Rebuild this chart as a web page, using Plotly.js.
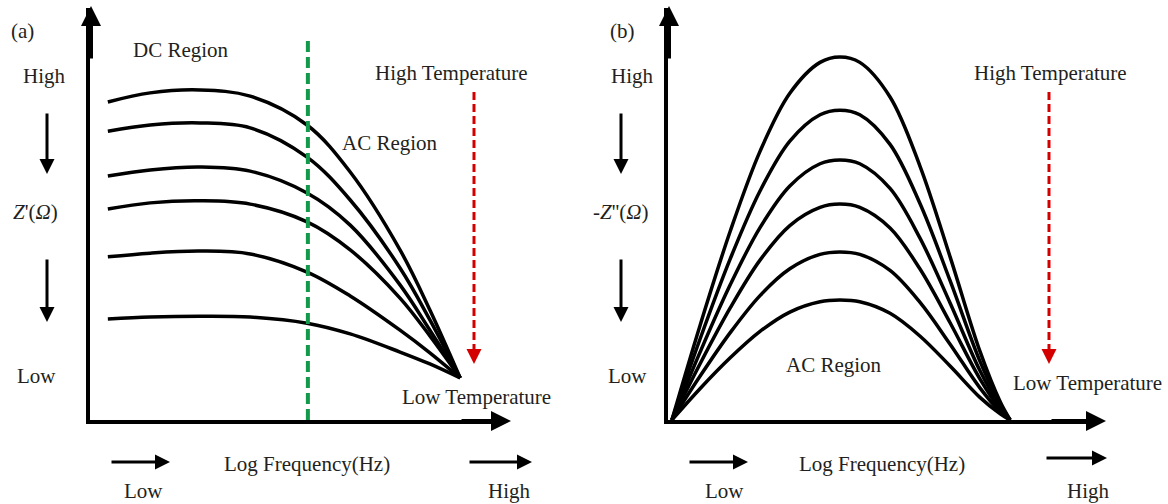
<!DOCTYPE html>
<html><head><meta charset="utf-8">
<script src="https://cdn.plot.ly/plotly-3.0.1.min.js"></script>
<style>html,body{margin:0;padding:0;background:#fff}#chart{width:1168px;height:504px}</style>
</head><body><div id="chart"></div>
<script>
// ---------- data (arbitrary units: log frequency 0-10, impedance 0-10) ----------
const freqA = [0.43, 1.45, 2.65, 3.86, 5.23, 6.27, 7.47, 8.19, 8.92];
const zReal1 = [7.72, 7.94, 8.01, 7.86, 7.16, 6.02, 4.13, 2.67, 1.02];
const zReal2 = [7.01, 7.16, 7.21, 7.09, 6.38, 5.34, 3.69, 2.43, 1.02];
const zReal3 = [5.92, 6.07, 6.14, 6.04, 5.51, 4.73, 3.28, 2.18, 1.02];
const zReal4 = [5.12, 5.27, 5.32, 5.24, 4.81, 4.13, 2.96, 2.04, 1.02];
const zReal5 = [3.96, 4.05, 4.10, 4.03, 3.59, 3.01, 2.18, 1.63, 1.02];
const zReal6 = [2.45, 2.50, 2.52, 2.50, 2.35, 2.09, 1.65, 1.36, 1.02];
const dcAcBoundary = 5.25;

const freqB = [0.09, 0.74, 1.44, 2.13, 2.82, 3.52, 3.98, 4.44, 5.14, 5.83, 6.53, 7.22, 7.69, 7.92];
const zImag1 = [0, 2.29, 4.58, 6.52, 7.93, 8.68, 8.81, 8.68, 7.84, 6.17, 3.96, 1.67, 0.44, 0];
const zImag2 = [0, 1.96, 3.91, 5.56, 6.77, 7.41, 7.52, 7.41, 6.69, 5.26, 3.38, 1.43, 0.38, 0];
const zImag3 = [0, 1.64, 3.28, 4.67, 5.68, 6.22, 6.31, 6.22, 5.62, 4.42, 2.84, 1.20, 0.32, 0];
const zImag4 = [0, 1.36, 2.72, 3.88, 4.72, 5.16, 5.24, 5.16, 4.66, 3.67, 2.36, 1.00, 0.26, 0];
const zImag5 = [0, 1.06, 2.12, 3.02, 3.67, 4.02, 4.08, 4.02, 3.63, 2.86, 1.84, 0.78, 0.20, 0];
const zImag6 = [0, 0.76, 1.51, 2.15, 2.62, 2.87, 2.91, 2.87, 2.59, 2.04, 1.31, 0.55, 0.15, 0];

// ---------- drawing ----------
const W = 1168, H = 504;
const FONT = "'Liberation Serif', 'Times New Roman', serif";
const lineStyle = {color: '#000', width: 3.5, shape: 'spline', smoothing: 1};

const traces = [];
[zReal1, zReal2, zReal3, zReal4, zReal5, zReal6].forEach(z => traces.push({
  x: freqA, y: z, xaxis: 'x', yaxis: 'y', mode: 'lines', line: lineStyle, hoverinfo: 'skip', cliponaxis: false
}));
[zImag1, zImag2, zImag3, zImag4, zImag5, zImag6].forEach(z => traces.push({
  x: freqB, y: z, xaxis: 'x2', yaxis: 'y2', mode: 'lines', line: lineStyle, hoverinfo: 'skip', cliponaxis: false
}));

const P = (x, y) => ({x: x / W, y: 1 - y / H, xref: 'paper', yref: 'paper'});
const txt = (s, x, y, size) => Object.assign(P(x, y), {
  text: s, showarrow: false, xanchor: 'center', yanchor: 'middle',
  font: {family: FONT, size: size || 21, color: '#231f20'}
});
const arr = (hx, hy, tx, ty, color, w, size) => Object.assign(P(hx, hy), {
  text: '', showarrow: true, arrowhead: 2, arrowsize: size || 1, arrowwidth: w,
  arrowcolor: color, ax: tx - hx, ay: ty - hy, axref: 'pixel', ayref: 'pixel', standoff: 0, startstandoff: 0
});

const axisBase = {range: [0, 10], showline: true, linewidth: 4, linecolor: '#000', showgrid: false,
  zeroline: false, showticklabels: false, ticks: '', fixedrange: true};

const red = '#d40000';
const annotations = [
  // panel (a)
  txt('(a)', 22, 31), txt('DC Region', 181, 50), txt('High', 44, 76),
  txt('<i>Z</i>\'(<i>Ω</i>)', 35, 212), txt('Low', 36, 376),
  txt('High Temperature', 451, 73), txt('AC Region', 390, 143), txt('Low Temperature', 476, 397),
  txt('Log Frequency(Hz)', 307, 464), txt('Low', 143, 491), txt('High', 509, 491),
  arr(47, 174, 47, 112, '#000', 3, 1), arr(47, 322, 47, 258, '#000', 3, 1),
  arr(170, 462, 110, 462, '#000', 3, 1), arr(532, 462, 468, 462, '#000', 3, 1),
  arr(91, 6, 91, 60, '#000', 4, 1), arr(511, 421, 460, 421, '#000', 4, 1),
  arr(474, 364, 474, 350, red, 3, 1),
  // panel (b)
  txt('(b)', 622, 31), txt('High', 632, 76),
  txt('-<i>Z</i>\'\'(<i>Ω</i>)', 620, 212), txt('Low', 627, 376),
  txt('High Temperature', 1050, 73), txt('AC Region', 834, 365), txt('Low Temperature', 1087, 383),
  txt('Log Frequency(Hz)', 882, 464), txt('Low', 724, 491), txt('High', 1088, 491),
  arr(621, 174, 621, 112, '#000', 3, 1), arr(621, 322, 621, 258, '#000', 3, 1),
  arr(748, 462, 688, 462, '#000', 3, 1), arr(1107, 458, 1045, 458, '#000', 3, 1),
  arr(669, 6, 669, 60, '#000', 4, 1), arr(1106, 421, 1050, 421, '#000', 4, 1),
  arr(1049, 364, 1049, 350, red, 3, 1)
];

const shapes = [
  {type: 'line', xref: 'x', yref: 'y', x0: dcAcBoundary, x1: dcAcBoundary, y0: 0, y1: 9.3,
   line: {color: '#12994a', width: 4, dash: '11px,5px'}},
  {type: 'line', xref: 'paper', yref: 'paper', x0: 474 / W, x1: 474 / W, y0: 1 - 92 / H, y1: 1 - 352 / H,
   line: {color: red, width: 3, dash: '8px,4px'}},
  {type: 'line', xref: 'paper', yref: 'paper', x0: 1049 / W, x1: 1049 / W, y0: 1 - 92 / H, y1: 1 - 352 / H,
   line: {color: red, width: 3, dash: '8px,4px'}}
];

const layout = {
  width: W, height: H, margin: {l: 0, r: 0, t: 0, b: 0},
  paper_bgcolor: '#fff', plot_bgcolor: '#fff', showlegend: false,
  xaxis: Object.assign({}, axisBase, {domain: [90 / W, 505 / W], anchor: 'y'}),
  yaxis: Object.assign({}, axisBase, {domain: [1 - 420 / H, 1 - 8 / H], anchor: 'x'}),
  xaxis2: Object.assign({}, axisBase, {domain: [668 / W, 1100 / W], anchor: 'y2'}),
  yaxis2: Object.assign({}, axisBase, {domain: [1 - 420 / H, 1 - 8 / H], anchor: 'x2'}),
  annotations: annotations, shapes: shapes
};

Plotly.newPlot('chart', traces, layout, {staticPlot: true, displayModeBar: false});
</script>
</body></html>
